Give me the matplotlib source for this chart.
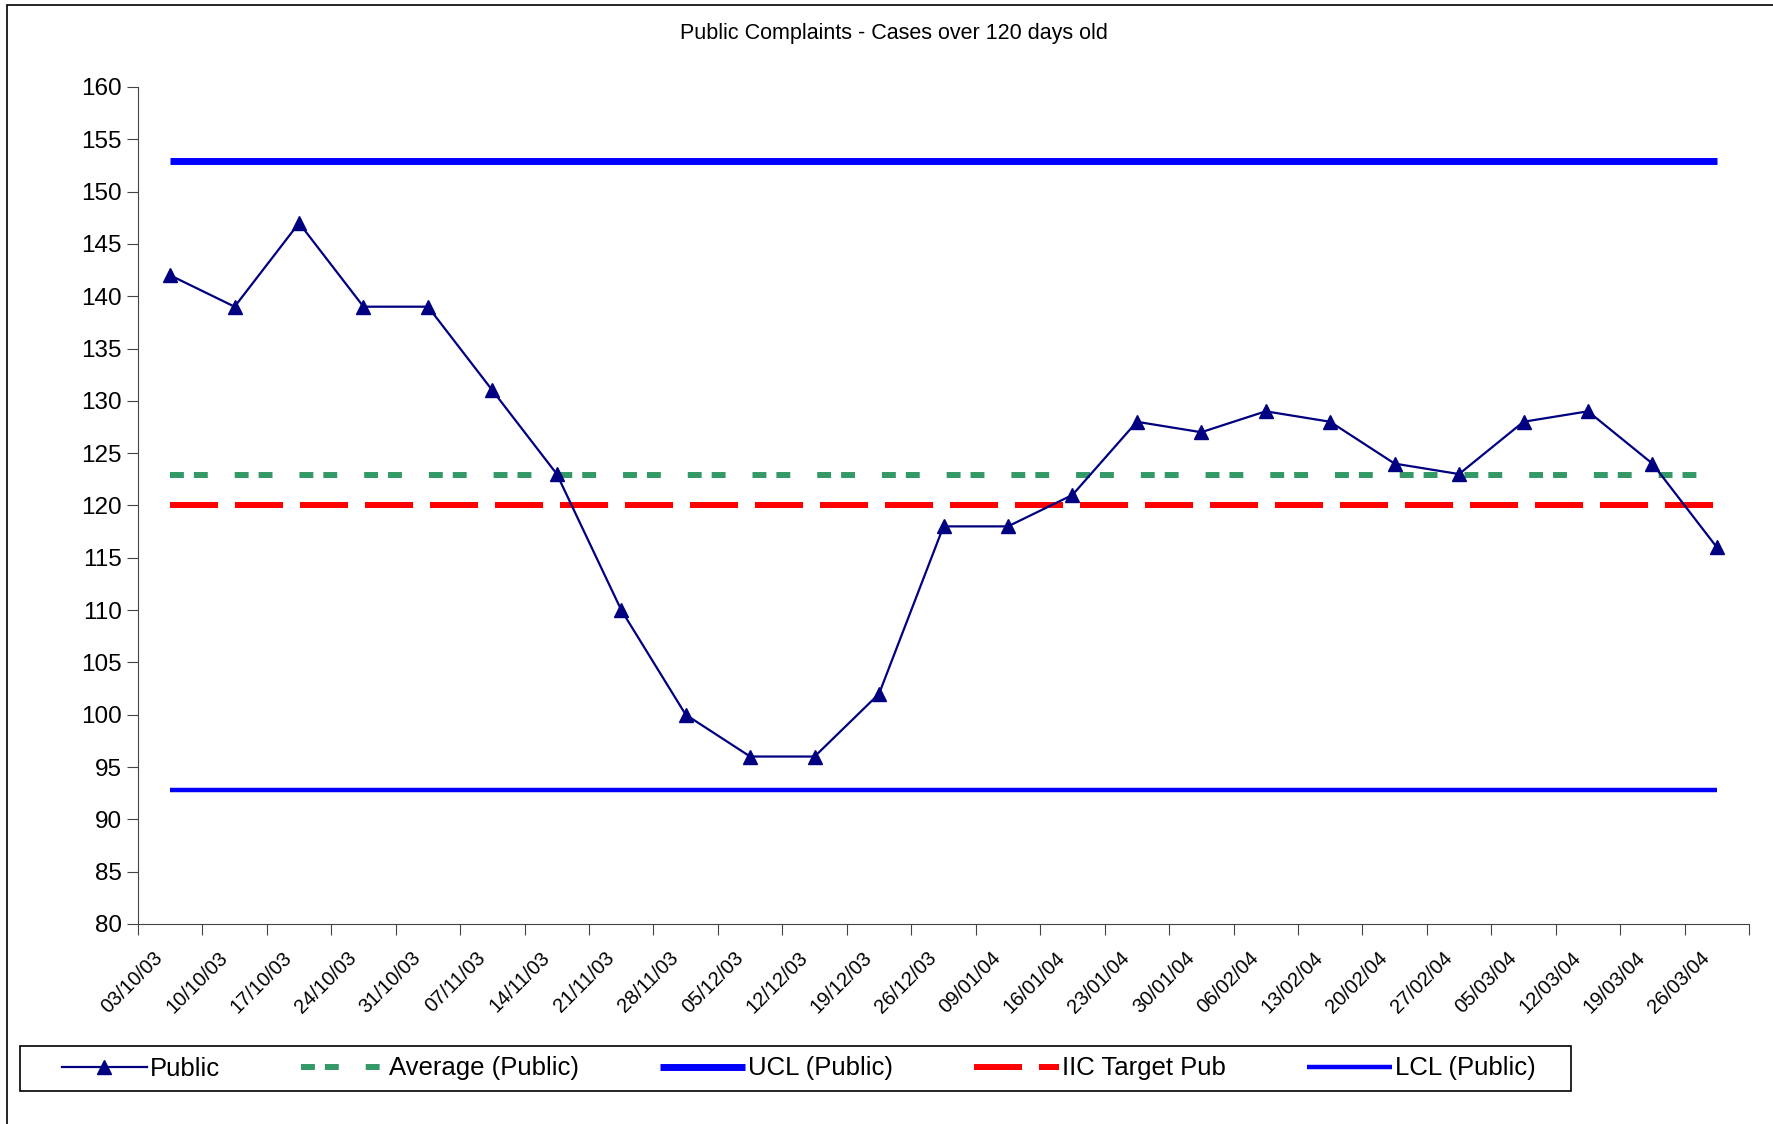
import matplotlib
matplotlib.use("Agg")
import matplotlib.pyplot as plt
import matplotlib.transforms as mtransforms
from matplotlib.patches import Rectangle

weeks = ["03/10/03", "10/10/03", "17/10/03", "24/10/03", "31/10/03", "07/11/03",
         "14/11/03", "21/11/03", "28/11/03", "05/12/03", "12/12/03", "19/12/03",
         "26/12/03", "09/01/04", "16/01/04", "23/01/04", "30/01/04", "06/02/04",
         "13/02/04", "20/02/04", "27/02/04", "05/03/04", "12/03/04", "19/03/04",
         "26/03/04"]
public = [142, 139, 147, 139, 139, 131, 123, 110, 100, 96, 96, 102, 118, 118,
          121, 128, 127, 129, 128, 124, 123, 128, 129, 124, 116]
average = 122.9
ucl = 152.9
lcl = 92.8
target = 120

plt.rcParams["font.family"] = ["Liberation Sans", "DejaVu Sans"]
plt.rcParams["lines.scale_dashes"] = False

fig = plt.figure(figsize=(17.73, 11.24), dpi=100)
ax = fig.add_axes([0.0778, 0.178, 0.9087, 0.7446])

x = list(range(len(weeks)))
n = len(weeks)
ax.plot(x, [average] * n, color="#339966", lw=4.3, dashes=(10, 7.2, 10, 19.4),
        dash_capstyle="butt", label="Average (Public)", zorder=2)
ax.plot(x, [target] * n, color="#ff0000", lw=4.3, dashes=(34.6, 12.2),
        dash_capstyle="butt", label="IIC Target Pub", zorder=2)
ax.plot(x, [ucl] * n, color="#0000ff", lw=5, solid_capstyle="butt",
        label="UCL (Public)", zorder=2)
ax.plot(x, [lcl] * n, color="#0000ff", lw=3.2, solid_capstyle="butt",
        label="LCL (Public)", zorder=2)
ax.plot(x, public, color="#000080", lw=1.6, marker="^", markersize=10,
        label="Public", zorder=3)

ax.set_xlim(-0.5, n - 0.5)
ax.set_ylim(80, 160)
ax.set_yticks(range(80, 161, 5))
ax.tick_params(axis="y", labelsize=17.5, length=8, direction="out", color="#444444")

ax.set_xticks([i - 0.5 for i in range(n + 1)])
ax.set_xticklabels([])
ax.tick_params(axis="x", which="major", length=8, direction="out", color="#444444")
ax.set_xticks(x, minor=True)
ax.set_xticklabels(weeks, minor=True, rotation=45, ha="right", va="center",
                   rotation_mode="anchor", fontsize=14.5)
ax.tick_params(axis="x", which="minor", length=0, pad=22)
shift = mtransforms.ScaledTranslation(-10 / 100, 0, fig.dpi_scale_trans)
for lbl in ax.get_xticklabels(minor=True):
    lbl.set_transform(lbl.get_transform() + shift)

for side in ("top", "right"):
    ax.spines[side].set_visible(False)
for side in ("left", "bottom"):
    ax.spines[side].set_color("#444444")

fig.text(0.504, 0.970, "Public Complaints - Cases over 120 days old",
         ha="center", va="center", fontsize=15.5)

# legend box drawn separately so the entries can sit where the original has them
fig.patches.append(Rectangle((20 / 1773, 33 / 1124), 1551 / 1773, 45 / 1124,
                             transform=fig.transFigure, fill=False,
                             edgecolor="black", lw=1.2))
h, l = ax.get_legend_handles_labels()
order = [4, 0, 2, 1, 3]
fig.legend([h[i] for i in order], [l[i] for i in order], ncol=5,
           loc="center left", bbox_to_anchor=(62 / 1773, 55.5 / 1124),
           fontsize=18.5, frameon=False, borderpad=0, borderaxespad=0,
           handlelength=3.3, handletextpad=0.13, columnspacing=3.15)

fig.patches.append(Rectangle((7 / 1773, -0.2), 1.2, 1.2 - 5 / 1124,
                             transform=fig.transFigure, fill=False,
                             edgecolor="black", lw=1.2))

fig.savefig("out.png", dpi=100)
